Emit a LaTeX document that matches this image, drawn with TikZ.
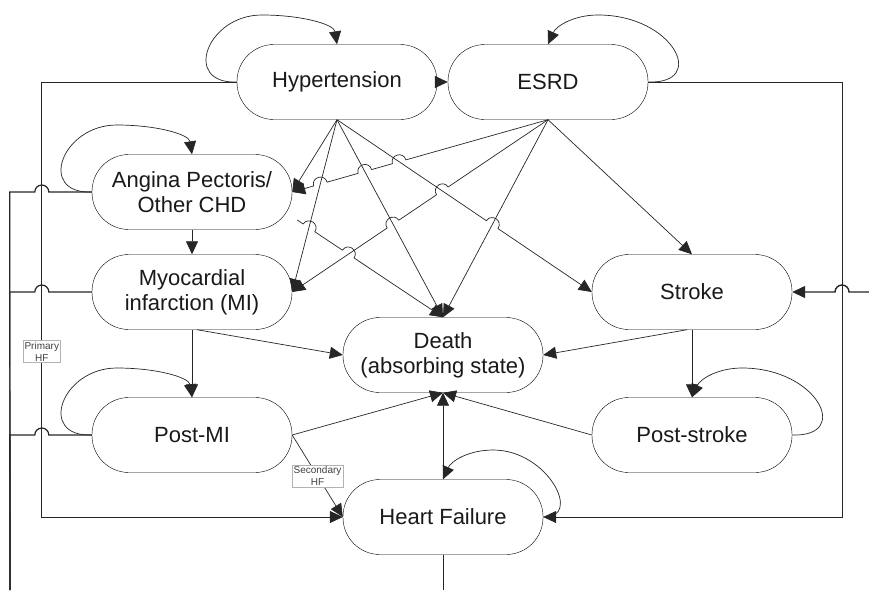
\documentclass[tikz,border=0pt]{standalone}
\usepackage{fontspec}
\setmainfont{Liberation Sans}
\usetikzlibrary{calc,arrows.meta}
\tikzstyle{stadium} = [rectangle, draw=black, rounded corners=37pt, minimum height=75pt, minimum width=200pt, align=center, text=black!90, font=\fontsize{22}{25}\selectfont]
\tikzstyle{trans} = [draw=black!85, line width=0.7pt, -{Triangle[length=13pt,width=12pt]}]
\tikzstyle{tag} = [draw=black!30, fill=white, align=center, inner sep=1.5pt, text=black!75, font=\fontsize{10}{12}\selectfont]
\newcommand{\hop}[4]{-- ($(#1)!7pt!(#2)$) to[bend #4=90,looseness=1.7] ($(#1)!7pt!(#3)$)}

\begin{document}
\begin{tikzpicture}[x=1pt,y=-1pt]
    \useasboundingbox (0,0) rectangle (869,590);

    % states
    \node (HT) [stadium] at (337,82) {Hypertension};
    \node (ESRD) [stadium] at (548,82) {ESRD};
    \node (AP) [stadium] at (192,192) {Angina Pectoris/\\Other CHD};
    \node (MI) [stadium] at (192,292) {Myocardial\\infarction (MI)};
    \node (ST) [stadium] at (692,292) {Stroke};
    \node (D) [stadium] at (443,355) {Death\\(absorbing state)};
    \node (PMI) [stadium] at (192,435) {Post-MI};
    \node (PST) [stadium] at (692,435) {Post-stroke};
    \node (HF) [stadium] at (443,517) {Heart Failure};

    % free ends and line jumps
    \coordinate (botL) at (10,590);
    \coordinate (botHF) at (443,590);
    \coordinate (rgtIn) at (869,292);
    \coordinate (APd) at ($(AP.east)+(5,28)$);
    \coordinate (x1) at ($(ESRD.south)!0.582!(AP.east)$);
    \coordinate (x2) at ($(ESRD.south)!0.716!(AP.east)$);
    \coordinate (x3) at ($(ESRD.south)!0.890!(AP.east)$);
    \coordinate (x4) at ($(ESRD.south)!0.413!(MI.east)$);
    \coordinate (x5) at ($(ESRD.south)!0.606!(MI.east)$);
    \coordinate (x6) at ($(HT.south)!0.609!(ST.west)$);
    \coordinate (x7) at ($(APd)!0.081!(D.north)$);
    \coordinate (x8) at ($(APd)!0.350!(D.north)$);

    % self loops
    \draw[trans] (HT.west) .. controls +(-55,2) and +(-55,0) .. ($(HT.west)+(25,-67)$) .. controls +(40,0) and +(-3,-20) .. (HT.north);
    \draw[trans] (AP.west) .. controls +(-55,2) and +(-55,0) .. ($(AP.west)+(25,-67)$) .. controls +(40,0) and +(-3,-20) .. (AP.north);
    \draw[trans] (PMI.west) .. controls +(-55,2) and +(-55,0) .. ($(PMI.west)+(25,-67)$) .. controls +(40,0) and +(-3,-20) .. (PMI.north);
    \draw[trans] (ESRD.east) .. controls +(60,2) and +(75,0) .. ($(ESRD.east)+(-50,-67)$) .. controls +(-25,0) and +(8,-18) .. (ESRD.north);
    \draw[trans] (PST.east) .. controls +(60,2) and +(75,0) .. ($(PST.east)+(-50,-67)$) .. controls +(-25,0) and +(8,-18) .. (PST.north);
    \draw[trans] (HF.east) .. controls +(40,2) and +(55,0) .. ($(HF.east)+(-50,-67)$) .. controls +(-25,0) and +(8,-18) .. (HF.north);

    % transitions
    \draw[trans] (HT.east) -- (ESRD.west);
    \draw[trans] (AP.south) -- (MI.north);
    \draw[trans] (MI.south) -- (PMI.north);
    \draw[trans] (ST.south) -- (PST.north);
    \draw[trans] (HT.south) -- (AP.east);
    \draw[trans] (HT.south) -- (MI.east);
    \draw[trans] (HT.south) -- (D.north);
    \draw[trans] (HT.south) \hop{x6}{HT.south}{ST.west}{left} -- (ST.west);
    \draw[trans] (ESRD.south) \hop{x1}{ESRD.south}{AP.east}{right} \hop{x2}{ESRD.south}{AP.east}{right} \hop{x3}{ESRD.south}{AP.east}{right} -- (AP.east);
    \draw[trans] (ESRD.south) \hop{x4}{ESRD.south}{MI.east}{right} \hop{x5}{ESRD.south}{MI.east}{right} -- (MI.east);
    \draw[trans] (ESRD.south) -- (D.north);
    \draw[trans] (ESRD.south) -- (ST.north);
    \draw[trans] (APd) \hop{x7}{APd}{D.north}{left} \hop{x8}{APd}{D.north}{left} -- (D.north);
    \draw[trans] ([xshift=5pt]MI.south) -- (D.west);
    \draw[trans] ([xshift=-5pt]ST.south) -- (D.east);
    \draw[trans] (PMI.east) -- (D.south);
    \draw[trans] (PST.west) -- (D.south);
    \draw[trans] (HF.north) -- (D.south);
    \draw[trans] (PMI.east) -- node[tag] {Secondary\\HF} (HF.west);

    % heart failure and stroke feeds
    \draw[trans] (HT.west) -- ++(-195,0) |- node[tag, pos=0.31] {Primary\\HF} (HF.west);
    \draw[trans] (ESRD.east) -- ++(194,0) |- (HF.east);
    \draw[draw=black!85, line width=1.2pt] (AP.west) -- ++(-43,0) arc[start angle=0, end angle=180, radius=7pt] -- ++(-25,0) -- (botL);
    \draw[draw=black!85, line width=1.2pt] (MI.west) -- ++(-43,0) arc[start angle=0, end angle=180, radius=7pt] -- ++(-25,0) -- (botL);
    \draw[draw=black!85, line width=1.2pt] (PMI.west) -- ++(-43,0) arc[start angle=0, end angle=180, radius=7pt] -- ++(-25,0) -- (botL);
    \draw[trans, line width=1.4pt] (rgtIn) -- ++(-20,0) arc[start angle=0, end angle=180, radius=7pt] -- (ST.east);
    \draw[draw=black!85, line width=0.7pt] (HF.south) -- (botHF);

\end{tikzpicture}
\end{document}
